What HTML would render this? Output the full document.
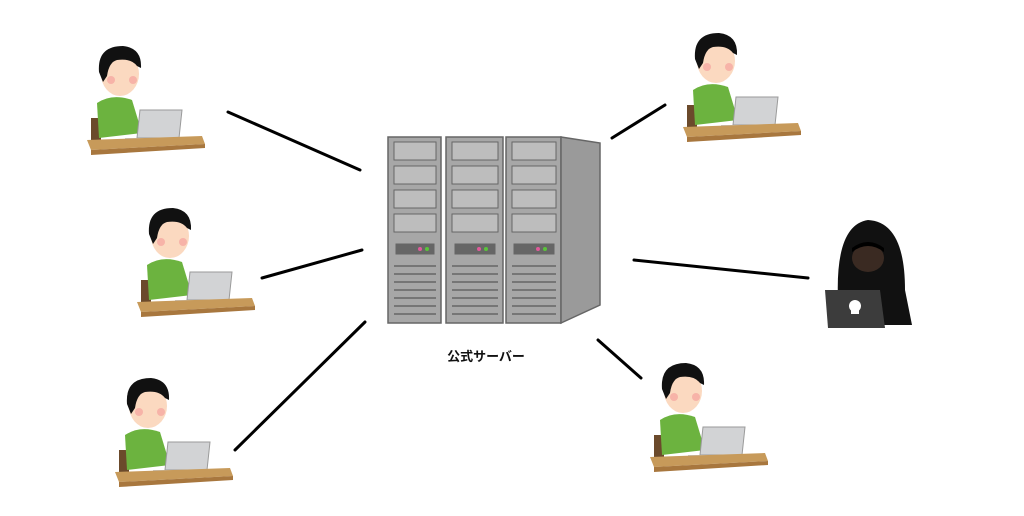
<!DOCTYPE html>
<html><head><meta charset="utf-8"><style>
html,body{margin:0;padding:0;background:#fff}
svg{display:block}
</style></head><body>
<svg width="1024" height="516" viewBox="0 0 1024 516" xmlns="http://www.w3.org/2000/svg">
<defs>
<g id="p">
  <!-- chair -->
  <rect x="4" y="-20" width="10" height="22" fill="#6b4a2b"/>
  <!-- body -->
  <path d="M10,-35 Q25,-45 45,-38 L55,-5 L12,0 Z" fill="#6cb33f"/>
  <!-- head -->
  <ellipse cx="33" cy="-64" rx="19" ry="22" fill="#fbd9c0"/>
  <path d="M12,-66 Q10,-92 36,-92 Q55,-90 54,-70 L50,-72 Q44,-80 30,-78 Q22,-76 20,-62 L16,-56 Z" fill="#111"/>
  <circle cx="24" cy="-58" r="4" fill="#f7b3a8"/>
  <circle cx="46" cy="-58" r="4" fill="#f7b3a8"/>
  <!-- laptop -->
  <path d="M53,-28 L95,-28 L92,0 L50,0 Z" fill="#d2d3d5" stroke="#9a9a9a" stroke-width="1"/>
  <rect x="38" y="0" width="40" height="4" fill="#c8c9cb"/>
  <!-- desk -->
  <path d="M0,2 L115,-2 L118,6 L4,12 Z" fill="#c79a5a"/>
  <path d="M4,12 L118,6 L118,10 L4,17 Z" fill="#a8773e"/>
</g>
</defs>

<g stroke="#000" stroke-width="3" stroke-linecap="round">
<line x1="228" y1="112" x2="360" y2="170"/>
<line x1="262" y1="278" x2="362" y2="250"/>
<line x1="235" y1="450" x2="365" y2="322"/>
<line x1="612" y1="138" x2="665" y2="105"/>
<line x1="634" y1="260" x2="808" y2="278"/>
<line x1="598" y1="340" x2="641" y2="378"/>
</g>

<use href="#p" x="87" y="138"/>
<use href="#p" x="137" y="300"/>
<use href="#p" x="115" y="470"/>
<use href="#p" x="683" y="125"/>
<use href="#p" x="650" y="455"/>

<!-- hacker -->
<path d="M838,300 Q835,225 868,220 Q905,222 905,290 L912,325 L840,325 Z" fill="#111"/>
<ellipse cx="868" cy="258" rx="16" ry="14" fill="#3a2a22"/>
<path d="M852,252 Q868,240 884,252 L884,248 Q868,236 852,248 Z" fill="#000"/>
<path d="M825,290 L880,290 L885,328 L828,328 Z" fill="#3c3c3c"/>
<circle cx="855" cy="306" r="6" fill="#fff"/>
<rect x="851" y="310" width="8" height="4" fill="#fff"/>

<!-- server -->
<g fill="#a7a7a7" stroke="#666" stroke-width="1.5">
<rect x="388" y="137" width="53" height="186"/>
<rect x="446" y="137" width="57" height="186"/>
<rect x="506" y="137" width="55" height="186"/>
<path d="M561,137 L600,143 L600,305 L561,323 Z" fill="#9a9a9a"/>
</g>
<g fill="#bdbdbd" stroke="#666" stroke-width="1">
<rect x="394" y="142" width="42" height="18"/><rect x="394" y="166" width="42" height="18"/><rect x="394" y="190" width="42" height="18"/><rect x="394" y="214" width="42" height="18"/>
<rect x="452" y="142" width="46" height="18"/><rect x="452" y="166" width="46" height="18"/><rect x="452" y="190" width="46" height="18"/><rect x="452" y="214" width="46" height="18"/>
<rect x="512" y="142" width="44" height="18"/><rect x="512" y="166" width="44" height="18"/><rect x="512" y="190" width="44" height="18"/><rect x="512" y="214" width="44" height="18"/>
<rect x="396" y="244" width="38" height="10" fill="#666"/>
<rect x="455" y="244" width="40" height="10" fill="#666"/>
<rect x="514" y="244" width="40" height="10" fill="#666"/>
</g>
<circle cx="420" cy="249" r="2" fill="#e05a9a"/><circle cx="427" cy="249" r="2" fill="#5ac43a"/>
<circle cx="479" cy="249" r="2" fill="#e05a9a"/><circle cx="486" cy="249" r="2" fill="#5ac43a"/>
<circle cx="538" cy="249" r="2" fill="#e05a9a"/><circle cx="545" cy="249" r="2" fill="#5ac43a"/>
<g stroke="#666" stroke-width="1.5">
<line x1="394" y1="266" x2="436" y2="266"/><line x1="394" y1="274" x2="436" y2="274"/><line x1="394" y1="282" x2="436" y2="282"/><line x1="394" y1="290" x2="436" y2="290"/><line x1="394" y1="298" x2="436" y2="298"/><line x1="394" y1="306" x2="436" y2="306"/><line x1="394" y1="314" x2="436" y2="314"/>
<line x1="452" y1="266" x2="498" y2="266"/><line x1="452" y1="274" x2="498" y2="274"/><line x1="452" y1="282" x2="498" y2="282"/><line x1="452" y1="290" x2="498" y2="290"/><line x1="452" y1="298" x2="498" y2="298"/><line x1="452" y1="306" x2="498" y2="306"/><line x1="452" y1="314" x2="498" y2="314"/>
<line x1="512" y1="266" x2="556" y2="266"/><line x1="512" y1="274" x2="556" y2="274"/><line x1="512" y1="282" x2="556" y2="282"/><line x1="512" y1="290" x2="556" y2="290"/><line x1="512" y1="298" x2="556" y2="298"/><line x1="512" y1="306" x2="556" y2="306"/><line x1="512" y1="314" x2="556" y2="314"/>
</g>

<text x="486" y="361" text-anchor="middle" font-family="'Liberation Sans','Noto Sans CJK JP',sans-serif" font-size="13" font-weight="bold" fill="#111">公式サーバー</text>
</svg>
</body></html>
